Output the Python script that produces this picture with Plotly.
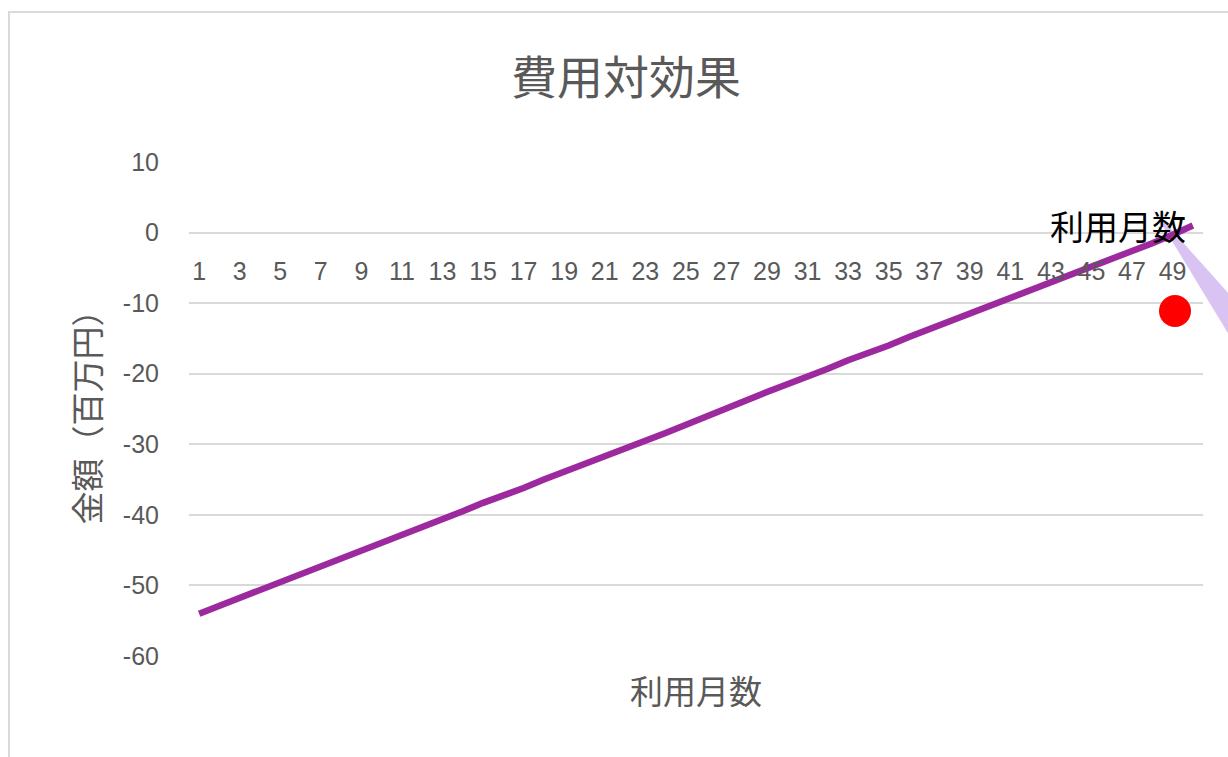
import plotly.graph_objects as go

# ---- data ----
months = list(range(1, 51))
amounts = [-54.0, -52.9, -51.7, -50.5, -49.6, -48.4, -47.2, -46.1, -45.1, -43.9,
           -42.8, -41.8, -40.6, -39.5, -38.3, -37.3, -36.2, -35.0, -33.8, -32.8,
           -31.7, -30.5, -29.5, -28.4, -27.2, -26.0, -25.0, -23.8, -22.6, -21.5,
           -20.5, -19.3, -18.1, -17.1, -16.0, -14.8, -13.7, -12.7, -11.5, -10.3,
           -9.2, -8.2, -7.0, -5.9, -4.8, -3.7, -2.6, -1.5, -0.3, 1.0]
x_tick_vals = list(range(1, 50, 2))
y_tick_vals = [10, 0, -10, -20, -30, -40, -50, -60]
y_tick_text = ["10", "0", "-10", "-20", "-30", "-40", "-50", "-60"]

title_text = "費用対効果"
y_title = "金額（百万円）"
x_title = "利用月数"
callout_text = "利用月数"

W, H = 1228, 757
L, R, T, B = 189, 25, 162, 101
PW, PH = W - L - R, H - T - B


def px(x):
    return (x - L) / PW


def py(y):
    return (H - B - y) / PH


GRAY = "#595959"
GRID = "#d9d9d9"
FONT = "Liberation Sans, Arial, Noto Sans CJK JP, sans-serif"
CJK = "Noto Sans CJK JP, sans-serif"

fig = go.Figure()
fig.add_trace(go.Scatter(
    x=months, y=amounts, mode="lines",
    line=dict(color="#9C2A9E", width=6.5),
    hoverinfo="skip", showlegend=False,
))

fig.update_layout(
    width=W, height=H,
    margin=dict(l=L, r=R, t=T, b=B),
    paper_bgcolor="white", plot_bgcolor="white",
    showlegend=False,
    title=dict(text=title_text, x=626 / W, xanchor="center",
               y=1 - 78 / H, yanchor="middle",
               font=dict(family=CJK, size=46, color=GRAY)),
    xaxis=dict(
        range=[0.5, 50.5], tickmode="array", tickvals=x_tick_vals,
        ticktext=[str(v) for v in x_tick_vals],
        showgrid=False, zeroline=False, showline=False,
        anchor="free", position=60 / 70, side="bottom",
        ticks="outside", ticklen=16, tickcolor="rgba(0,0,0,0)",
        tickfont=dict(family=FONT, size=25, color=GRAY),
        tickangle=0,
    ),
    yaxis=dict(
        range=[-60, 10], tickmode="array", tickvals=y_tick_vals,
        ticktext=y_tick_text,
        showgrid=True, gridcolor=GRID, gridwidth=2,
        zeroline=True, zerolinecolor=GRID, zerolinewidth=2,
        showline=False,
        ticks="outside", ticklen=24, tickcolor="rgba(0,0,0,0)",
        tickfont=dict(family=FONT, size=25, color=GRAY),
        title=dict(text=y_title, standoff=12,
                   font=dict(family=CJK, size=33, color=GRAY)),
    ),
)

# x-axis title placed at the bottom (axis itself crosses at 0)
fig.add_annotation(text=x_title, xref="paper", yref="paper",
                   x=px(696), y=py(690), xanchor="center", yanchor="middle",
                   showarrow=False, font=dict(family=CJK, size=33, color=GRAY))

# callout label
fig.add_annotation(text=callout_text, xref="paper", yref="paper",
                   x=px(1118), y=py(225), xanchor="center", yanchor="middle",
                   showarrow=False, font=dict(family=CJK, size=34, color="black"))

# chart border (partially outside the view)
fig.add_shape(type="rect", xref="paper", yref="paper",
              x0=px(9), y0=py(900), x1=px(1400), y1=py(12),
              line=dict(color=GRID, width=2), layer="below")

# light purple wedge
fig.add_shape(type="path", xref="paper", yref="paper",
              path=f"M {px(1152)} {py(208)} L {px(1240)} {py(306)} L {px(1240)} {py(353)} Z",
              fillcolor="#D9C3F3", line=dict(width=0), layer="below")

# red dot
fig.add_shape(type="circle", xref="paper", yref="paper",
              x0=px(1159), x1=px(1191), y0=py(327), y1=py(295),
              fillcolor="#FF0000", line=dict(width=0), layer="above")

fig.write_html("out.html",
               config={"displayModeBar": False},
               post_script="document.body.style.margin='0';"
                           "document.body.style.overflow='hidden';")
